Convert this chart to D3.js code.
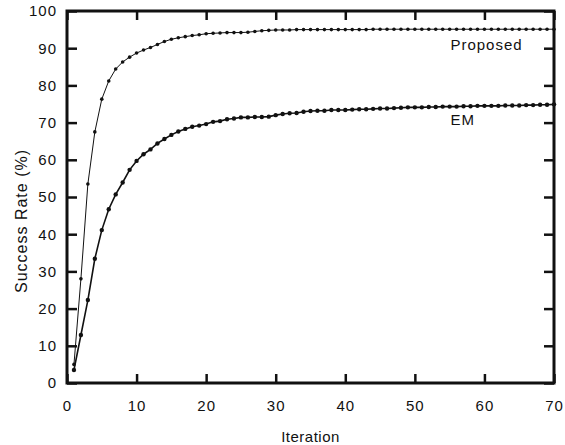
<!DOCTYPE html>
<html>
<head>
<meta charset="utf-8">
<script src="https://cdn.jsdelivr.net/npm/d3@7"></script>
<style>
  body { margin: 0; background: #fff; }
  text { font-family: "Liberation Sans", Arial, sans-serif; fill: #111; }
</style>
</head>
<body>
<div id="chart"></div>
<script>
const WIDTH = 565;
const HEIGHT = 445;
const MARGIN = {top: 11, right: 11, bottom: 62, left: 67};

const iterations = d3.range(1, 71);
const proposed = [
  5.0, 28.0, 53.5, 67.5, 76.3, 81.2, 84.4, 86.3, 87.6, 88.7,
  89.5, 90.2, 91.0, 91.8, 92.4, 92.8, 93.1, 93.4, 93.6, 93.9,
  94.0, 94.1, 94.2, 94.2, 94.2, 94.3, 94.5, 94.7, 94.8, 94.9,
  94.9, 94.9, 95.0, 95.0, 95.0, 95.0, 95.0, 95.0, 95.0, 95.0,
  95.0, 95.0, 95.0, 95.1, 95.1, 95.1, 95.1, 95.1, 95.1, 95.1,
  95.1, 95.1, 95.1, 95.1, 95.1, 95.1, 95.1, 95.1, 95.1, 95.1,
  95.1, 95.1, 95.1, 95.1, 95.1, 95.1, 95.1, 95.1, 95.1, 95.1];
const em = [
  3.5, 12.9, 22.3, 33.4, 41.1, 46.7, 50.7, 53.9, 57.3, 59.7,
  61.5, 62.8, 64.4, 65.6, 66.7, 67.6, 68.3, 68.9, 69.2, 69.6,
  70.2, 70.4, 70.9, 71.1, 71.4, 71.4, 71.5, 71.5, 71.6, 72.0,
  72.3, 72.5, 72.6, 72.9, 73.1, 73.2, 73.2, 73.4, 73.4, 73.4,
  73.5, 73.6, 73.6, 73.7, 73.8, 73.8, 73.9, 74.0, 74.1, 74.1,
  74.1, 74.2, 74.2, 74.3, 74.3, 74.3, 74.4, 74.4, 74.5, 74.5,
  74.5, 74.5, 74.6, 74.6, 74.6, 74.7, 74.7, 74.8, 74.8, 74.9];
const xTicks = [0, 10, 20, 30, 40, 50, 60, 70];
const yTicks = [0, 10, 20, 30, 40, 50, 60, 70, 80, 90, 100];

let svg = d3.select('#chart').append('svg')
    .attr('width', WIDTH)
    .attr('height', HEIGHT);

const w = WIDTH - MARGIN.left - MARGIN.right;
const h = HEIGHT - MARGIN.top - MARGIN.bottom;

let x = d3.scaleLinear().domain([0, 70]).range([MARGIN.left, MARGIN.left + w]);
let y = d3.scaleLinear().domain([0, 100]).range([MARGIN.top + h, MARGIN.top]);

// inward ticks on all four sides
function styleAxis(g) {
  g.select('.domain').remove();
  g.selectAll('.tick line').attr('stroke', '#111').attr('stroke-width', 2.5);
  g.selectAll('.tick text').attr('font-size', 15).style('letter-spacing', '1px');
}

svg.append('g')
    .attr('transform', 'translate(0,' + (MARGIN.top + h) + ')')
    .call(d3.axisBottom(x).tickValues(xTicks).tickSizeInner(-9).tickPadding(17))
    .call(styleAxis);
svg.append('g')
    .attr('transform', 'translate(0,' + MARGIN.top + ')')
    .call(d3.axisTop(x).tickValues(xTicks).tickSizeInner(-9).tickFormat(''))
    .call(styleAxis);
svg.append('g')
    .attr('transform', 'translate(' + MARGIN.left + ',0)')
    .call(d3.axisLeft(y).tickValues(yTicks).tickSizeInner(-10).tickPadding(10))
    .call(styleAxis);
svg.append('g')
    .attr('transform', 'translate(' + (MARGIN.left + w) + ',0)')
    .call(d3.axisRight(y).tickValues(yTicks).tickSizeInner(-10).tickFormat(''))
    .call(styleAxis);

svg.append('rect')
    .attr('x', MARGIN.left).attr('y', MARGIN.top)
    .attr('width', w).attr('height', h)
    .attr('fill', 'none').attr('stroke', '#111').attr('stroke-width', 3);

const series = [
  {name: 'Proposed', values: proposed, width: 1, r: 1.8},
  {name: 'EM', values: em, width: 1.6, r: 2.2}
];

let line = d3.line()
    .x(function(d, i) { return x(iterations[i]); })
    .y(function(d) { return y(d); });

series.forEach(function(s) {
  svg.append('path')
      .attr('d', line(s.values))
      .attr('fill', 'none')
      .attr('stroke', '#111')
      .attr('stroke-width', s.width);
  svg.append('g').selectAll('circle')
      .data(s.values)
      .join('circle')
      .attr('cx', function(d, i) { return x(iterations[i]); })
      .attr('cy', function(d) { return y(d); })
      .attr('r', s.r)
      .attr('fill', '#111');
});

// series labels
svg.append('text')
    .attr('x', x(60.3)).attr('y', y(89.5))
    .attr('text-anchor', 'middle')
    .attr('font-size', 15).style('letter-spacing', '1px')
    .text('Proposed');
svg.append('text')
    .attr('x', x(56.9)).attr('y', y(69.4))
    .attr('text-anchor', 'middle')
    .attr('font-size', 15).style('letter-spacing', '1px')
    .text('EM');

svg.append('text')
    .attr('x', MARGIN.left + w / 2)
    .attr('y', 442)
    .attr('text-anchor', 'middle')
    .attr('font-size', 15).style('letter-spacing', '0.5px')
    .text('Iteration');
svg.append('text')
    .attr('transform', 'translate(27,221) rotate(-90)')
    .attr('text-anchor', 'middle')
    .attr('font-size', 16).style('letter-spacing', '1px')
    .text('Success Rate (%)');
</script>
</body>
</html>
